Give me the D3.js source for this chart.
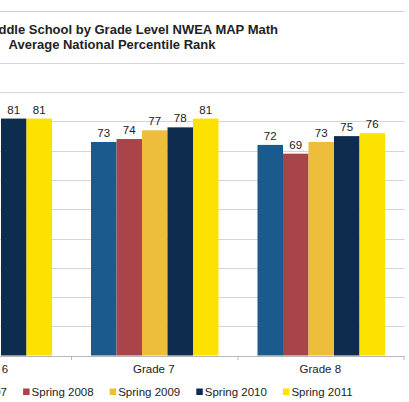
<!DOCTYPE html>
<html>
<head>
<meta charset="utf-8">
<script src="https://cdn.jsdelivr.net/npm/d3@7"></script>
<style>
  body { margin: 0; background: #fff; }
  svg { display: block; font-family: "Liberation Sans", Arial, Helvetica, sans-serif; }
</style>
</head>
<body>
<svg id="chart" width="409" height="402"></svg>
<script>
// categories and series (grade 6 values left of the frame could not be read)
const grades = ['Grade 6', 'Grade 7', 'Grade 8'];
const seasons = ['Spring 2007', 'Spring 2008', 'Spring 2009', 'Spring 2010', 'Spring 2011'];
const spring2007 = [null, 73, 72];
const spring2008 = [null, 74, 69];
const spring2009 = [null, 77, 73];
const spring2010 = [81, 78, 75];
const spring2011 = [81, 81, 76];
const seriesValues = [spring2007, spring2008, spring2009, spring2010, spring2011];
const colors = ['#1b5a8d', '#a8444a', '#edbd3b', '#0e2d4e', '#fbe200'];
const titleLines = ['Middle School by Grade Level NWEA MAP Math', 'Average National Percentile Rank'];

const svg = d3.select('#chart');

const x = d3.scaleBand().domain(grades).range([-95, 404.5]);
const xInner = d3.scaleBand().domain(seasons).range([19.5, 147]);
const y = d3.scaleLinear().domain([0, 100]).range([355.5, 63]);
const color = d3.scaleOrdinal().domain(seasons).range(colors);

// frame line at the top
svg.append('line')
  .attr('x1', -95).attr('x2', 404.5)
  .attr('y1', 11.5).attr('y2', 11.5)
  .attr('stroke', '#d2d2d2');

// gridlines
svg.append('g')
  .selectAll('line')
  .data(y.ticks(10).filter(d => d > 0))
  .join('line')
  .attr('x1', -95).attr('x2', 404.5)
  .attr('y1', d => Math.round(y(d)) + 0.5)
  .attr('y2', d => Math.round(y(d)) + 0.5)
  .attr('stroke', '#d4d4d4');

// bars
const rows = [];
grades.forEach((g, gi) => {
  seasons.forEach((s, si) => {
    const v = seriesValues[si][gi];
    if (v != null) rows.push({grade: g, season: s, value: v});
  });
});

const bars = svg.append('g');
bars.selectAll('rect')
  .data(rows)
  .join('rect')
  .attr('x', d => x(d.grade) + xInner(d.season))
  .attr('width', xInner.bandwidth())
  .attr('y', d => y(d.value))
  .attr('height', d => y(0) - y(d.value))
  .attr('fill', d => color(d.season));

bars.selectAll('text')
  .data(rows)
  .join('text')
  .attr('x', d => x(d.grade) + xInner(d.season) + xInner.bandwidth() / 2)
  .attr('y', d => y(d.value) - 5)
  .attr('text-anchor', 'middle')
  .attr('font-size', 11.5)
  .attr('fill', '#222')
  .text(d => d.value);

// x axis
const axis = svg.append('g');
axis.append('line')
  .attr('x1', -95).attr('x2', 404.5)
  .attr('y1', Math.round(y(0)) + 0.5).attr('y2', Math.round(y(0)) + 0.5)
  .attr('stroke', '#b8b8b8');
axis.selectAll('.tick')
  .data(grades.slice(1).map(g => x(g)).concat([x.range()[1] - 0.5]))
  .join('line')
  .attr('class', 'tick')
  .attr('x1', d => d).attr('x2', d => d)
  .attr('y1', Math.round(y(0))).attr('y2', Math.round(y(0)) + 4)
  .attr('stroke', '#b8b8b8');
axis.selectAll('text')
  .data(grades)
  .join('text')
  .attr('x', d => x(d) + x.bandwidth() / 2 - 1)
  .attr('y', 373)
  .attr('text-anchor', 'middle')
  .attr('font-size', 11.5)
  .attr('fill', '#222')
  .text(d => d);

// legend
const legend = svg.append('g')
  .selectAll('g')
  .data(seasons)
  .join('g')
  .attr('transform', (d, i) => `translate(${-63.5 + i * 86.6},0)`);
legend.append('rect')
  .attr('x', 0).attr('y', 388.5)
  .attr('width', 6.5).attr('height', 6.5)
  .attr('fill', d => color(d));
legend.append('text')
  .attr('x', 8.5).attr('y', 396)
  .attr('font-size', 11.5)
  .attr('fill', '#222')
  .text(d => d);

// title
svg.append('text')
  .attr('x', 278).attr('y', 33.5)
  .attr('text-anchor', 'end')
  .attr('font-size', 13)
  .attr('font-weight', 'bold')
  .attr('fill', '#222')
  .text(titleLines[0]);
svg.append('text')
  .attr('x', 112).attr('y', 48.5)
  .attr('text-anchor', 'middle')
  .attr('font-size', 13)
  .attr('font-weight', 'bold')
  .attr('fill', '#222')
  .text(titleLines[1]);
</script>
</body>
</html>
